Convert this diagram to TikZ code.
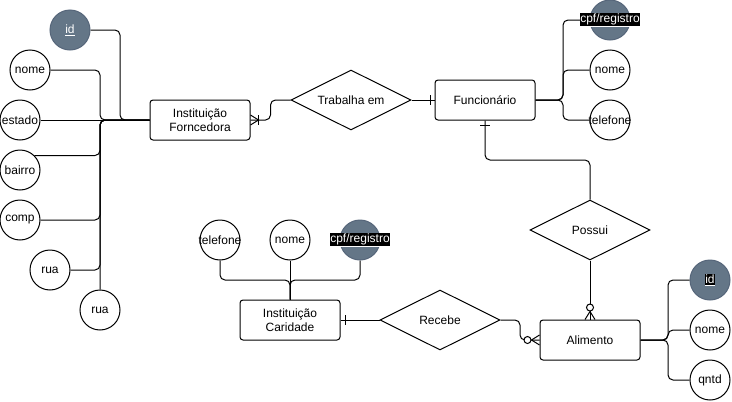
\documentclass[tikz,border=0pt]{standalone}
\usepackage{fontspec}
\setmainfont{Liberation Sans}
\usetikzlibrary{shapes.geometric,calc}
\definecolor{keyfill}{HTML}{647687}
\definecolor{keyline}{HTML}{56667A}
\tikzset{
  ent/.style={draw, rounded corners=3pt, minimum width=100pt, minimum height=40pt, inner sep=0pt, align=center, line width=1pt},
  rel/.style={draw, shape=diamond, aspect=2, minimum width=120pt, minimum height=60pt, inner sep=0pt, line width=1pt},
  attr/.style={draw, circle, minimum size=40pt, inner sep=0pt, line width=1pt, fill=white},
  keyattr/.style={circle, minimum size=40pt, inner sep=0pt, fill=keyfill, draw=keyline, line width=1pt},
  keylbl/.style={fill=black, text=white, inner sep=0.8pt},
  conn/.style={line width=1pt, rounded corners=5pt},
  tip/.style={line width=1pt},
}
\begin{document}
\begin{tikzpicture}[x=1pt,y=-1pt,font=\fontsize{12}{14}\selectfont]
\useasboundingbox (0,0) rectangle (732,402);

% entities & relationships
\node[ent] (fornc) at (200,120) {Instituição\\Forncedora};
\node[rel] (trab) at (351,100) {Trabalha em};
\node[ent] (func) at (485,100) {Funcionário};
\node[rel] (possui) at (590,230) {Possui};
\node[ent] (alim) at (590,340) {Alimento};
\node[ent] (carid) at (290,320) {Instituição\\Caridade};
\node[rel] (recebe) at (440,320) {Recebe};

% bus coordinates
\coordinate (busA) at (100,120);
\coordinate (busB) at (120,120);
\coordinate (fbus) at (563,100);
\coordinate (abus) at (668,340);
\coordinate (cbus) at (290,280);

% attribute positions (coordinates for connectors)
\coordinate (id1c) at (70,30);
\coordinate (nome1c) at (30,70);
\coordinate (estadoc) at (20,120);
\coordinate (bairroc) at (20,170);
\coordinate (compc) at (20,220);
\coordinate (rua1c) at (50,270);
\coordinate (rua2c) at (100,310);

% attributes of Instituição Forncedora
\node[keyattr] (id1) at (id1c) {};
\node[attr] (nome1) at (nome1c) {};
\node[attr] (estado) at (estadoc) {};
\node[attr] (bairro) at (bairroc) {};
\node[attr] (comp) at (compc) {};
\node[attr] (rua1) at (rua1c) {};
\node[attr] (rua2) at (rua2c) {};

% attributes of Funcionário
\node[keyattr] (cpf1) at (610,20) {};
\node[attr] (nomeF) at (610,70) {};
\node[attr] (telF) at (610,120) {};

% attributes of Alimento
\node[keyattr] (id2) at (710,280) {};
\node[attr] (nomeA) at (710,330) {};
\node[attr] (qntd) at (710,380) {};

% attributes of Instituição Caridade
\node[attr] (tel2) at (220,240) {};
\node[attr] (nome2) at (290,240) {};
\node[keyattr] (cpf2) at (360,240) {};

% connectors: Forncedora attributes
\draw[conn] (id1.east) -| (busB) -- (fornc.west);
\draw[conn] (nome1.east) -| (busA) -- (fornc.west);
\draw[conn] (estado.east) -- (fornc.west);
\draw[conn] (bairro.45) -| (busA) -- (fornc.west);
\draw[conn] (comp.east) -| (busA) -- (fornc.west);
\draw[conn] (rua1.east) -| (busA) -- (fornc.west);
\draw[conn] (rua2.north) -- (busA) -- (fornc.west);

% Funcionário attributes
\draw[conn] (func.east) -- (fbus) |- (cpf1.west);
\draw[conn] (func.east) -- (fbus) |- (nomeF.west);
\draw[conn] (func.east) -- (fbus) |- (telF.west);

% Alimento attributes
\draw[conn] (alim.east) -- (abus) |- (id2.west);
\draw[conn] (alim.east) -- (abus) |- (nomeA.west);
\draw[conn] (alim.east) -- (abus) |- (qntd.west);

% Caridade attributes
\draw[conn] (tel2.south) |- (cbus) -- (carid.north);
\draw[conn] (nome2.south) -- (carid.north);
\draw[conn] (cpf2.south) |- (cbus) -- (carid.north);

% relationships
\draw[conn] (fornc.east) -| ($(fornc.east)!0.5!(trab.west)$) |- (trab.west);
\draw[conn] (trab.east) -- (func.west);
\draw[conn] (func.south) |- ($(func.south)!0.5!(possui.north)$) -| (possui.north);
\draw[conn] (possui.south) -- (alim.north);
\draw[conn] (carid.east) -- (recebe.west);
\draw[conn] (recebe.east) -| ($(recebe.east)!0.5!(alim.west)$) |- (alim.west);

% cardinality marks
% Forncedora: mandatory many
\draw[tip] ($(fornc.east)+(0,-5)$) -- ($(fornc.east)+(8,0)$) -- ($(fornc.east)+(0,5)$);
\draw[tip] ($(fornc.east)+(8,-5)$) -- ($(fornc.east)+(8,5)$);
% Funcionário west: one
\draw[tip] ($(func.west)+(-4,-5)$) -- ($(func.west)+(-4,5)$);
% Funcionário south: one
\draw[tip] ($(func.south)+(-5,5)$) -- ($(func.south)+(5,5)$);
% Caridade east: one
\draw[tip] ($(carid.east)+(5,-5)$) -- ($(carid.east)+(5,5)$);
% Alimento north: zero many
\draw[tip] ($(alim.north)+(-5,0)$) -- ($(alim.north)+(0,-8)$) -- ($(alim.north)+(5,0)$);
\draw[tip, fill=white] ($(alim.north)+(0,-12)$) circle (3.5);
% Alimento west: zero many
\draw[tip] ($(alim.west)+(0,-5)$) -- ($(alim.west)+(-8,0)$) -- ($(alim.west)+(0,5)$);
\draw[tip, fill=white] ($(alim.west)+(-12,0)$) circle (3.5);

% labels
\node[text=white] (id1t) at (id1) {\underline{id}};
\node (nome1t) at (nome1) {nome};
\node (estadot) at (estado) {estado};
\node (bairrot) at (bairro) {bairro};
\node (compt) at (comp) {comp};
\node (rua1t) at (rua1) {rua};
\node (rua2t) at (rua2) {rua};
\node[keylbl] (cpf1t) at (cpf1) {\underline{cpf/registro}};
\node (nomeFt) at (nomeF) {nome};
\node (telFt) at (telF) {telefone};
\node[keylbl] (id2t) at (id2) {\underline{id}};
\node (nomeAt) at (nomeA) {nome};
\node (qntdt) at (qntd) {qntd};
\node (tel2t) at (tel2) {telefone};
\node (nome2t) at (nome2) {nome};
\node[keylbl] (cpf2t) at (cpf2) {\underline{cpf/registro}};
\end{tikzpicture}
\end{document}
